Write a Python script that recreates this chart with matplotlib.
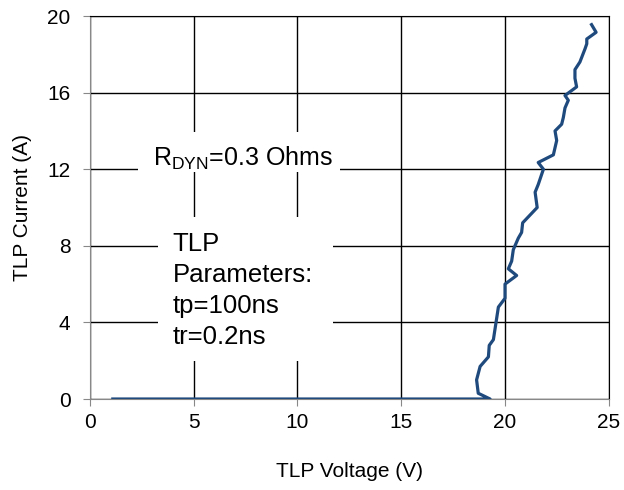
import matplotlib
matplotlib.use("Agg")
from matplotlib import pyplot as plt
from matplotlib.patches import Rectangle

plt.rcParams["font.family"] = ["Liberation Sans", "DejaVu Sans"]
plt.rcParams["mathtext.default"] = "regular"

# TLP curve (voltage V, current A)
tlp_voltage = [1.1, 19.28, 18.71, 18.63, 18.80, 19.20, 19.24, 19.44, 19.68, 20.0,
               20.0, 20.56, 20.16, 20.32, 20.40, 20.64, 20.80, 20.85, 21.55, 21.45,
               21.60, 21.85, 21.60, 22.33, 22.49, 22.41, 22.73, 22.81, 22.89, 23.05,
               22.89, 23.45, 23.37, 23.37, 23.61, 23.86, 23.94, 23.94, 24.39, 24.17]
tlp_current = [0.0, 0.0, 0.3, 1.0, 1.7, 2.2, 2.8, 3.1, 4.8, 5.26,
               6.0, 6.45, 6.8, 7.2, 7.8, 8.4, 8.7, 9.2, 10.0, 10.8,
               11.2, 12.0, 12.35, 12.75, 13.5, 14.0, 14.35, 14.7, 15.2, 15.6,
               15.85, 16.3, 16.75, 17.2, 17.6, 18.3, 18.55, 18.8, 19.15, 19.55]

x_ticks = [0, 5, 10, 15, 20, 25]
y_ticks = [0, 4, 8, 12, 16, 20]

fig = plt.figure(figsize=(6.24, 4.9), dpi=100)
ax = fig.add_axes([0.1442, 0.1857, 0.8314, 0.7816])

ax.plot(tlp_voltage, tlp_current, color="#1f4a7e", linewidth=2.3, zorder=5)

ax.set_xlim(0, 25)
ax.set_ylim(0, 20)
ax.set_xticks(x_ticks)
ax.set_yticks(y_ticks)
ax.grid(True, color="black", linewidth=1.0, zorder=1)
ax.set_axisbelow(True)

for side in ["left", "bottom"]:
    ax.spines[side].set_color("#888888")
for side in ["top", "right"]:
    ax.spines[side].set_color("black")
ax.tick_params(axis="both", direction="out", length=5, color="#888888",
               labelsize=15)
ax.tick_params(axis="y", pad=9)
ax.tick_params(axis="x", pad=5)

ax.set_xlabel("TLP Voltage (V)", fontsize=15, labelpad=22)
ax.set_ylabel("TLP Current (A)", fontsize=15, labelpad=11)

# white boxes hiding grid behind the annotations
ax.add_patch(Rectangle((2.31, 11.85), 9.74, 2.09, facecolor="white",
                       edgecolor="none", zorder=2))
ax.add_patch(Rectangle((3.28, 2.0), 8.43, 7.5, facecolor="white",
                       edgecolor="none", zorder=2))

ax.text(3.04, 12.18, r"R$_{DYN}$=0.3 Ohms", fontsize=18, ha="left",
        va="baseline", zorder=3)
ax.text(3.98, 8.74, "TLP\nParameters:\ntp=100ns\ntr=0.2ns", fontsize=18.5,
        ha="left", va="top", linespacing=1.38, zorder=3)

fig.savefig("out.png", dpi=100)
